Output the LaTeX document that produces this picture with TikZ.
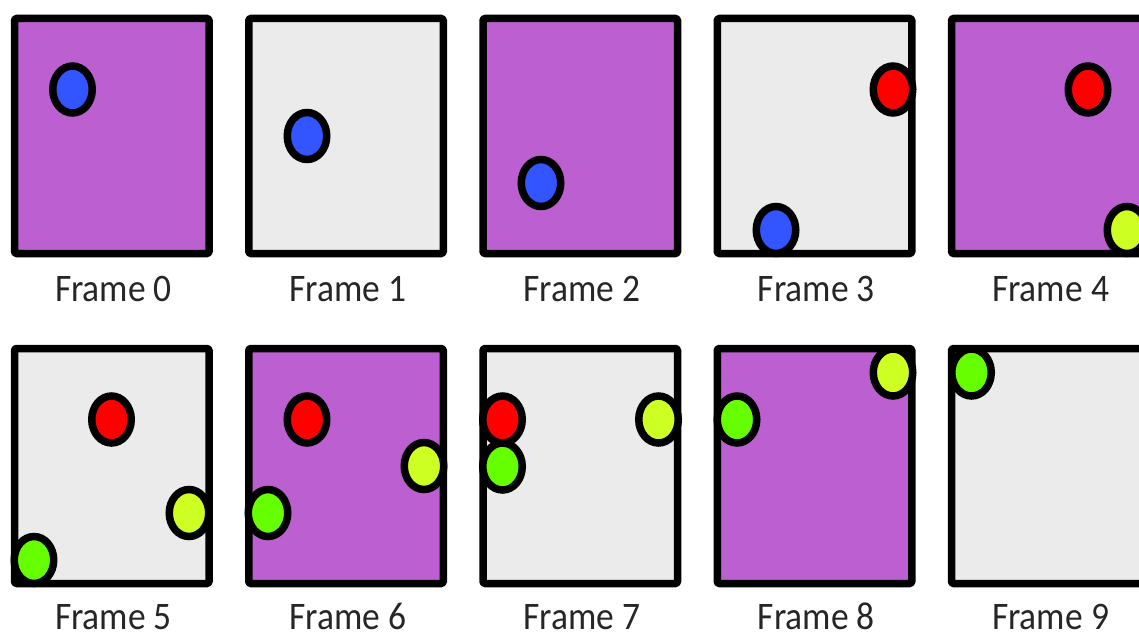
\documentclass[tikz,border=0pt]{standalone}
\usepackage{fontspec}
\setmainfont{Carlito}
\usetikzlibrary{shapes.geometric}
\definecolor{fpurple}{RGB}{188,95,208}
\definecolor{fgray}{RGB}{235,235,235}
\definecolor{bblue}{RGB}{51,85,255}
\definecolor{bred}{RGB}{255,0,0}
\definecolor{byellow}{RGB}{206,255,34}
\definecolor{bgreen}{RGB}{102,255,0}
\tikzset{
  frame/.style={draw=black, line width=7.5pt, rounded corners=1.5pt, line join=round,
    rectangle, minimum width=194.5pt, minimum height=235pt, inner sep=0pt, outer sep=0pt},
  pframe/.style={frame, fill=fpurple},
  gframe/.style={frame, fill=fgray},
  ball/.style={draw=black, line width=7.5pt, ellipse, minimum width=39.5pt, minimum height=47pt, inner sep=0pt},
  lab/.style={anchor=base, font=\fontsize{39}{45}\selectfont, text=black!85, xscale=0.91, inner sep=0pt, text depth=0pt}
}
\begin{document}
\begin{tikzpicture}[x=1pt,y=-1pt]
\useasboundingbox (0,0) rectangle (1139,634);
\clip (0,0) rectangle (1139,634);
\fill[white] (0,0) rectangle (1139,634);
% row 1
\node[pframe] (f0) at (111.75,136) {};
\node[gframe] (f1) at (346,136) {};
\node[pframe] (f2) at (580.25,136) {};
\node[gframe] (f3) at (814.5,136) {};
\node[pframe] (f4) at (1048.75,136) {};
% row 2
\node[gframe] (f5) at (111.75,466) {};
\node[pframe] (f6) at (346,466) {};
\node[gframe] (f7) at (580.25,466) {};
\node[pframe] (f8) at (814.5,466) {};
\node[gframe] (f9) at (1048.75,466) {};
% labels
\node[lab] (l0) at (113.5,301.5) {Frame 0};
\node[lab] (l1) at (347.75,301.5) {Frame 1};
\node[lab] (l2) at (582,301.5) {Frame 2};
\node[lab] (l3) at (816.25,301.5) {Frame 3};
\node[lab] (l4) at (1050.5,301.5) {Frame 4};
\node[lab] (l5) at (113.5,629.5) {Frame 5};
\node[lab] (l6) at (347.75,629.5) {Frame 6};
\node[lab] (l7) at (582,629.5) {Frame 7};
\node[lab] (l8) at (816.25,629.5) {Frame 8};
\node[lab] (l9) at (1050.5,629.5) {Frame 9};
% balls
\node[ball, fill=bblue] (b0) at (72.5,89.5) {};
\node[ball, fill=bblue] (b1) at (307,136) {};
\node[ball, fill=bblue] (b2) at (541,183) {};
\node[ball, fill=bred] (r3) at (893,89.5) {};
\node[ball, fill=bblue] (b3) at (776,230) {};
\node[ball, fill=bred] (r4) at (1088,89.5) {};
\node[ball, fill=byellow] (y4) at (1127,230) {};
\node[ball, fill=bred] (r5) at (111.5,419.5) {};
\node[ball, fill=byellow] (y5) at (189,513) {};
\node[ball, fill=bgreen] (g5) at (34,560) {};
\node[ball, fill=bred] (r6) at (307,419.5) {};
\node[ball, fill=byellow] (y6) at (424,466) {};
\node[ball, fill=bgreen] (g6) at (268,513) {};
\node[ball, fill=bred] (r7) at (502.5,419.5) {};
\node[ball, fill=bgreen] (g7) at (502.5,466.5) {};
\node[ball, fill=byellow] (y7) at (658.5,419.5) {};
\node[ball, fill=bgreen] (g8) at (737,419.5) {};
\node[ball, fill=byellow] (y8) at (893,372.5) {};
\node[ball, fill=bgreen] (g9) at (971.5,372.5) {};
\end{tikzpicture}
\end{document}
